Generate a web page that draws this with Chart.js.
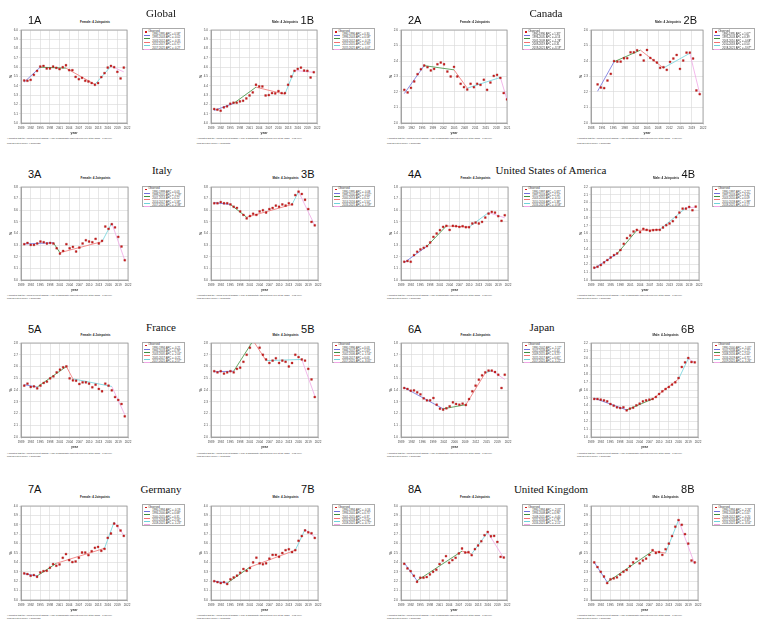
<!DOCTYPE html>
<html><head><meta charset="utf-8">
<script src="https://cdn.jsdelivr.net/npm/chart.js@4.4.1/dist/chart.umd.min.js"></script>
<style>
html,body{margin:0;padding:0;background:#fff;}
#page{position:relative;width:767px;height:627px;overflow:hidden;background:#fff;}
.t{position:absolute;white-space:nowrap;line-height:1;}
.lbl{font-family:"Liberation Sans",Arial,sans-serif;font-size:11px;color:#111;}
.country{font-family:"Liberation Serif","Times New Roman",serif;font-size:11px;color:#111;}
.sub{font-family:"Liberation Sans",Arial,sans-serif;font-size:3px;color:#222;font-weight:bold;}
.foot{font-family:"Liberation Sans",Arial,sans-serif;font-size:2.2px;color:#333;}
.legend{position:absolute;border:0.6px solid #aaa;background:#fff;box-sizing:border-box;}
.legend .row{position:absolute;font-family:"Liberation Sans",Arial,sans-serif;font-size:2.7px;color:#333;white-space:nowrap;line-height:1;}
.legend .sw{position:absolute;height:0.9px;}
.legend .mk{position:absolute;width:1.6px;height:1.6px;background:#d41c1c;}
canvas{position:absolute;}
</style></head><body><div id="page"></div><script>
// ---------- DATA ----------
const YEARS = [1990,1991,1992,1993,1994,1995,1996,1997,1998,1999,2000,2001,2002,2003,2004,2005,2006,2007,2008,2009,2010,2011,2012,2013,2014,2015,2016,2017,2018,2019,2020,2021];

const XL33  = ['1989','1992','1995','1998','2001','2004','2007','2010','2013','2016','2019','2022'];
const XL_CA_A = ['1989','1992','1995','1999','2002','2005','2008','2011','2015','2018','2021'];
const XL_CA_B = ['1988','1991','1995','1998','2002','2005','2008','2012','2015','2019','2022'];
const XL_JP_A = ['1989','1992','1996','1999','2002','2006','2009','2012','2015','2019','2022'];

const obs_1A = [5.457,5.454,5.464,5.518,5.56,5.607,5.614,5.586,5.586,5.607,5.593,5.579,5.6,5.621,5.568,5.568,5.496,5.471,5.486,5.454,5.446,5.429,5.411,5.429,5.493,5.536,5.596,5.614,5.6,5.55,5.479,5.596];
const bp_1A = [1990,1995,2003,2012,2017,2021];
const fit_1A = [5.44,5.6,5.59,5.415,5.61,5.55];

const obs_1B = [4.15,4.143,4.132,4.168,4.179,4.207,4.218,4.218,4.232,4.239,4.264,4.296,4.329,4.411,4.393,4.393,4.296,4.3,4.321,4.318,4.343,4.321,4.321,4.411,4.5,4.561,4.582,4.596,4.564,4.561,4.489,4.546];
const bp_1B = [1990,1996,2003,2012,2015,2021];
const fit_1B = [4.135,4.21,4.385,4.31,4.565,4.545];

const obs_2A = [2.214,2.197,2.227,2.268,2.315,2.347,2.371,2.36,2.339,2.349,2.379,2.39,2.379,2.332,2.3,2.362,2.3,2.253,2.231,2.216,2.253,2.231,2.253,2.246,2.279,2.214,2.261,2.304,2.311,2.291,2.193,2.152];
const bp_2A = [1990,1996,2005,2009,2019,2021];
const fit_2A = [2.19,2.37,2.343,2.225,2.294,2.15];

const obs_2B = [2.249,2.229,2.225,2.274,2.317,2.399,2.396,2.396,2.418,2.418,2.456,2.456,2.469,2.439,2.403,2.471,2.42,2.405,2.39,2.356,2.36,2.343,2.394,2.416,2.439,2.349,2.403,2.454,2.454,2.416,2.21,2.186];
const bp_2B = [1990,1995,2003,2010,2018,2021];
const fit_2B = [2.205,2.395,2.47,2.355,2.45,2.19];

const obs_3A = [3.308,3.319,3.302,3.302,3.314,3.331,3.325,3.314,3.319,3.314,3.273,3.227,3.25,3.308,3.273,3.285,3.245,3.279,3.314,3.342,3.331,3.325,3.354,3.314,3.337,3.46,3.44,3.48,3.452,3.371,3.288,3.17];
const bp_3A = [1990,1999,2001,2014,2017,2021];
const fit_3A = [3.31,3.32,3.235,3.33,3.49,3.17];

const obs_3B = [3.66,3.66,3.67,3.66,3.66,3.65,3.63,3.62,3.59,3.56,3.53,3.55,3.57,3.56,3.59,3.6,3.58,3.61,3.62,3.64,3.63,3.65,3.64,3.66,3.65,3.73,3.76,3.74,3.69,3.61,3.5,3.47];
const bp_3B = [1990,1995,2000,2014,2016,2021];
const fit_3B = [3.665,3.65,3.54,3.65,3.76,3.47];

const obs_4A = [1.157,1.163,1.157,1.214,1.243,1.263,1.277,1.291,1.323,1.371,1.4,1.429,1.457,1.466,1.431,1.466,1.463,1.457,1.463,1.454,1.454,1.486,1.494,1.486,1.5,1.537,1.571,1.586,1.58,1.549,1.509,1.557];
const bp_4A = [1990,1997,2003,2010,2016,2021];
const fit_4A = [1.15,1.29,1.465,1.455,1.58,1.535];

const obs_4B = [1.159,1.171,1.193,1.227,1.257,1.291,1.321,1.343,1.386,1.467,1.54,1.574,1.626,1.647,1.617,1.66,1.647,1.634,1.643,1.647,1.647,1.677,1.707,1.729,1.759,1.81,1.87,1.921,1.921,1.943,1.9,1.947];
const bp_4B = [1990,1997,2003,2010,2018,2021];
const fit_4B = [1.15,1.34,1.64,1.65,1.93,1.94];

const obs_5A = [2.437,2.454,2.426,2.431,2.414,2.437,2.46,2.471,2.499,2.516,2.55,2.573,2.593,2.601,2.499,2.482,2.479,2.451,2.465,2.465,2.454,2.423,2.445,2.409,2.389,2.454,2.437,2.397,2.34,2.315,2.281,2.176];
const bp_5A = [1990,1994,2003,2005,2017,2021];
const fit_5A = [2.445,2.425,2.6,2.495,2.43,2.19];

const obs_5B = [2.56,2.55,2.56,2.54,2.55,2.56,2.55,2.58,2.59,2.64,2.7,2.76,2.82,2.82,2.76,2.7,2.66,2.63,2.65,2.67,2.63,2.65,2.64,2.6,2.63,2.7,2.68,2.66,2.65,2.58,2.49,2.34];
const bp_5B = [1990,1996,2002,2006,2017,2021];
const fit_5B = [2.555,2.56,2.82,2.65,2.66,2.35];

const obs_6A = [1.417,1.409,1.394,1.397,1.38,1.363,1.329,1.312,1.312,1.332,1.275,1.241,1.233,1.244,1.261,1.295,1.281,1.275,1.284,1.272,1.323,1.389,1.437,1.488,1.525,1.55,1.565,1.565,1.553,1.53,1.417,1.53];
const bp_6A = [1990,2002,2009,2015,2017,2021];
const fit_6A = [1.42,1.24,1.275,1.545,1.565,1.49];

const obs_6B = [1.485,1.485,1.477,1.468,1.455,1.421,1.4,1.379,1.37,1.379,1.34,1.362,1.374,1.404,1.426,1.455,1.468,1.477,1.485,1.511,1.549,1.583,1.613,1.638,1.668,1.698,1.753,1.894,1.953,2.009,1.957,1.953];
const bp_6B = [1990,2000,2008,2016,2019,2021];
const fit_6B = [1.495,1.345,1.485,1.74,2.0,1.95];

const obs_7A = [3.283,3.276,3.258,3.265,3.247,3.293,3.307,3.311,3.343,3.382,3.364,3.378,3.449,3.488,3.424,3.403,3.41,3.449,3.505,3.505,3.477,3.519,3.555,3.565,3.523,3.544,3.661,3.707,3.813,3.788,3.739,3.682];
const bp_7A = [1990,1994,2000,2015,2018,2021];
const fit_7A = [3.28,3.255,3.39,3.55,3.83,3.69];

const obs_7B = [3.2,3.19,3.18,3.19,3.17,3.22,3.24,3.26,3.29,3.33,3.31,3.34,3.4,3.45,3.39,3.38,3.39,3.44,3.48,3.48,3.46,3.5,3.53,3.54,3.51,3.53,3.63,3.68,3.74,3.72,3.71,3.66];
const bp_7B = [1990,1994,2001,2015,2018,2021];
const fit_7B = [3.2,3.18,3.35,3.53,3.75,3.67];

const obs_8A = [2.385,2.336,2.307,2.258,2.194,2.237,2.237,2.244,2.272,2.3,2.322,2.382,2.42,2.466,2.396,2.424,2.449,2.495,2.548,2.505,2.509,2.477,2.541,2.58,2.625,2.689,2.724,2.678,2.682,2.618,2.459,2.452];
const bp_8A = [1990,1994,2008,2011,2016,2021];
const fit_8A = [2.395,2.205,2.52,2.49,2.72,2.445];

const obs_8B = [2.4,2.35,2.3,2.25,2.18,2.22,2.23,2.24,2.27,2.3,2.32,2.36,2.4,2.44,2.39,2.42,2.44,2.48,2.53,2.5,2.51,2.48,2.54,2.6,2.68,2.78,2.85,2.8,2.7,2.6,2.42,2.4];
const bp_8B = [1990,1994,2008,2012,2016,2021];
const fit_8B = [2.4,2.19,2.52,2.5,2.85,2.38];

const COUNTRY_NAMES = ['Global','Canada','Italy','United States of America','France','Japan','Germany','United Kingdom'];
const SEX_LABELS = ['Female','Male'];

// ---------- LAYOUT / STYLE ----------
const SEG_COLORS = ['#7070dc','#3f8f3f','#f07272','#6fd3dc','#f0a6e6'];
const ROWS = [
  {label:16, country:10, sub:22.3, foot:[137,141.5], legend:28.3},
  {label:170, country:166.7, sub:178.3, foot:[294.3,297.3], legend:185.7},
  {label:325, country:324, sub:335, foot:[451.5,454.5], legend:341.7},
  {label:485.7, country:485.7, sub:497.3, foot:[614,617], legend:504}
];
const COLS = [{legend:141.7,foot:7},{legend:331.7,foot:196.7},{legend:521.7,foot:387},{legend:711.7,foot:577}];
const COUNTRY_CX = [161,546,162,551,161,542,161,551];

const PANELS = [
 {key:'1A',row:0,col:0,obs:obs_1A,bpY:bp_1A,bpV:fit_1A,xl:XL33,yr:[5.0,6.0,10],box:[21,30,127,123]},
 {key:'1B',row:0,col:1,obs:obs_1B,bpY:bp_1B,bpV:fit_1B,xl:XL33,yr:[4.0,5.0,10],box:[211,30,317,123]},
 {key:'2A',row:0,col:2,obs:obs_2A,bpY:bp_2A,bpV:fit_2A,xl:XL_CA_A,yr:[2.0,2.6,6],box:[401,30,507,123]},
 {key:'2B',row:0,col:3,obs:obs_2B,bpY:bp_2B,bpV:fit_2B,xl:XL_CA_B,yr:[2.0,2.6,6],box:[591,30,703,123]},
 {key:'3A',row:1,col:0,obs:obs_3A,bpY:bp_3A,bpV:fit_3A,xl:XL33,yr:[3.0,3.8,8],box:[21,187,128,280]},
 {key:'3B',row:1,col:1,obs:obs_3B,bpY:bp_3B,bpV:fit_3B,xl:XL33,yr:[3.0,3.8,8],box:[211,187,318,280]},
 {key:'4A',row:1,col:2,obs:obs_4A,bpY:bp_4A,bpV:fit_4A,xl:XL33,yr:[1.0,1.8,8],box:[401,187,508,280]},
 {key:'4B',row:1,col:3,obs:obs_4B,bpY:bp_4B,bpV:fit_4B,xl:XL33,yr:[1.0,2.2,12],box:[591,187,699,280]},
 {key:'5A',row:2,col:0,obs:obs_5A,bpY:bp_5A,bpV:fit_5A,xl:XL33,yr:[2.0,2.8,8],box:[21,343,128,437]},
 {key:'5B',row:2,col:1,obs:obs_5B,bpY:bp_5B,bpV:fit_5B,xl:XL33,yr:[2.0,2.8,8],box:[211,343,318,437]},
 {key:'6A',row:2,col:2,obs:obs_6A,bpY:bp_6A,bpV:fit_6A,xl:XL_JP_A,yr:[1.0,1.8,8],box:[401,343,508,437]},
 {key:'6B',row:2,col:3,obs:obs_6B,bpY:bp_6B,bpV:fit_6B,xl:XL33,yr:[1.0,2.2,12],box:[591,343,698,437]},
 {key:'7A',row:3,col:0,obs:obs_7A,bpY:bp_7A,bpV:fit_7A,xl:XL33,yr:[3.0,4.0,10],box:[21,506,127,600]},
 {key:'7B',row:3,col:1,obs:obs_7B,bpY:bp_7B,bpV:fit_7B,xl:XL33,yr:[3.0,4.0,10],box:[211,506,318,600]},
 {key:'8A',row:3,col:2,obs:obs_8A,bpY:bp_8A,bpV:fit_8A,xl:XL33,yr:[2.0,3.0,10],box:[401,506,507,600]},
 {key:'8B',row:3,col:3,obs:obs_8B,bpY:bp_8B,bpV:fit_8B,xl:XL33,yr:[2.0,3.0,10],box:[591,506,698,600]}
];

const page = document.getElementById('page');
function addText(cls, txt, left, top, extra){
  const d = document.createElement('div');
  d.className = 't ' + cls; d.textContent = txt;
  d.style.left = left + 'px'; d.style.top = top + 'px';
  if (extra) Object.assign(d.style, extra);
  page.appendChild(d); return d;
}

const framePlugin = {
  id:'frame',
  beforeDatasetsDraw(chart){
    const {ctx, chartArea:a} = chart;
    ctx.save(); ctx.strokeStyle = '#9a9a9a'; ctx.lineWidth = 0.8;
    ctx.strokeRect(a.left, a.top, a.right - a.left, a.bottom - a.top);
    ctx.restore();
  }
};

function makeChart(p){
  const [L,T,R,B] = p.box;
  const YW = 20, XH = 13, PT = 5, PR = 8;
  const cw = Math.round(R - L + YW + PR), ch = Math.round(B - T + PT + XH);
  const cv = document.createElement('canvas');
  cv.width = cw; cv.height = ch;
  cv.style.left = (L - YW) + 'px'; cv.style.top = (T - PT) + 'px';
  cv.style.width = cw + 'px'; cv.style.height = ch + 'px';
  page.appendChild(cv);
  const xMin = +p.xl[0], xMax = +p.xl[p.xl.length - 1];
  const xTickVals = p.xl.map((_, i) => xMin + i * (xMax - xMin) / (p.xl.length - 1));
  const [yMin, yMax, nY] = p.yr;
  const yTickVals = Array.from({length:nY + 1}, (_, i) => yMin + i * (yMax - yMin) / nY);
  const datasets = [{
    data: YEARS.map((x, i) => ({x, y:p.obs[i]})), showLine:false, pointStyle:'rect',
    pointRadius:1.3, pointBackgroundColor:'#d41c1c', pointBorderColor:'#8a0f0f', pointBorderWidth:0.3
  }];
  for (let i = 0; i < p.bpY.length - 1; i++) {
    datasets.push({data:[{x:p.bpY[i], y:p.bpV[i]}, {x:p.bpY[i+1], y:p.bpV[i+1]}],
      showLine:true, borderColor:SEG_COLORS[i], borderWidth:0.8, pointRadius:0, fill:false});
  }
  const tickFont = {family:'Liberation Sans', size:3};
  new Chart(cv, {
    type:'line',
    data:{datasets},
    options:{
      responsive:false, animation:false, devicePixelRatio:1,
      layout:{padding:{left:0, top:PT, right:PR, bottom:0}},
      plugins:{legend:{display:false}, tooltip:{enabled:false}},
      scales:{
        x:{type:'linear', min:xMin, max:xMax,
          afterBuildTicks:s => { s.ticks = xTickVals.map(v => ({value:v})); },
          afterFit:s => { s.height = XH; },
          grid:{color:'#d6d6d6', lineWidth:0.6, tickLength:2},
          border:{color:'#9a9a9a', width:0.8},
          ticks:{font:tickFont, color:'#444', padding:1, maxRotation:0, autoSkip:false,
            callback:(v, i) => p.xl[i]},
          title:{display:true, text:'year', font:{family:'Liberation Sans', size:3.4, weight:'bold'}, color:'#333', padding:{top:0, bottom:0.9}}
        },
        y:{type:'linear', min:yMin, max:yMax,
          afterBuildTicks:s => { s.ticks = yTickVals.map(v => ({value:v})); },
          afterFit:s => { s.width = YW; },
          grid:{color:'#d6d6d6', lineWidth:0.6, tickLength:2},
          border:{color:'#9a9a9a', width:0.8},
          ticks:{font:tickFont, color:'#444', padding:1, autoSkip:false,
            callback:v => Number(v).toFixed(1)},
          title:{display:true, text:'%', font:{family:'Liberation Sans', size:3.6, weight:'bold'}, color:'#333', padding:{top:7.5, bottom:0}}
        }
      }
    },
    plugins:[framePlugin]
  });
}

function makeLegend(p){
  const r = ROWS[p.row], c = COLS[p.col];
  const lg = document.createElement('div');
  lg.className = 'legend';
  Object.assign(lg.style, {left:c.legend + 'px', top:r.legend + 'px', width:'43.3px', height:'21.7px'});
  const pitch = 3.35, y0 = 1.5;
  const mk = document.createElement('div'); mk.className = 'mk';
  Object.assign(mk.style, {left:'2.5px', top:(y0 + 0.4) + 'px'}); lg.appendChild(mk);
  const t0 = document.createElement('div'); t0.className = 'row'; t0.textContent = 'Observed';
  Object.assign(t0.style, {left:'5.5px', top:y0 + 'px'}); lg.appendChild(t0);
  for (let i = 0; i < p.bpY.length - 1; i++) {
    const y = y0 + (i + 1) * pitch;
    const sw = document.createElement('div'); sw.className = 'sw';
    Object.assign(sw.style, {left:'1.5px', width:'6px', top:(y + 1) + 'px', background:SEG_COLORS[i]});
    lg.appendChild(sw);
    const n = p.bpY[i+1] - p.bpY[i];
    const apc = (Math.pow(p.bpV[i+1] / p.bpV[i], 1 / n) - 1) * 100;
    const tx = document.createElement('div'); tx.className = 'row';
    tx.textContent = p.bpY[i] + '-' + p.bpY[i+1] + ' APC = ' + apc.toFixed(2) + (Math.abs(apc) > 0.5 ? '*' : '');
    Object.assign(tx.style, {left:'9.5px', top:y + 'px'});
    lg.appendChild(tx);
  }
  page.appendChild(lg);
}

PANELS.forEach(p => {
  const r = ROWS[p.row], c = COLS[p.col];
  const [L,T,R,B] = p.box;
  makeChart(p);
  makeLegend(p);
  const isA = p.key.endsWith('A');
  const sub = addText('sub', (isA ? SEX_LABELS[0] : SEX_LABELS[1]) + ': 4 Joinpoints', (L + R) / 2 + 21, r.sub - 1.5, {transform:'translateX(-50%)'});
  if (isA) {
    addText('lbl', p.key, L + 7, r.label - 1.4);
    const ci = Number(p.key[0]) - 1;
    addText('country', COUNTRY_NAMES[ci], COUNTRY_CX[ci], r.country - 1.9, {transform:'translateX(-50%)'});
  } else {
    const rect = sub.getBoundingClientRect();
    addText('lbl', p.key, rect.right + 2.5, r.label - 1.4);
  }
  addText('foot', '* Indicates that the Annual Percent Change (APC) is significantly different from zero at the alpha = 0.05 level.', c.foot, r.foot[0]);
  addText('foot', 'Final Selected Model: 4 Joinpoints.', c.foot, r.foot[1]);
});
</script></body></html>
